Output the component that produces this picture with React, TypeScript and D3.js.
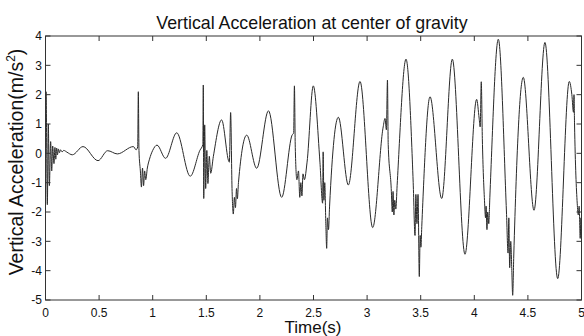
import React from "react";
import * as d3 from "d3";

const times: number[] = [
  0, 0.005, 0.017, 0.026, 0.036, 0.048, 0.058, 0.067, 0.079, 0.088, 0.096, 0.104, 0.112, 0.12, 0.13, 0.14, 0.155, 0.17, 0.2,
  0.25, 0.35, 0.49, 0.58, 0.67, 0.82, 0.845, 0.86, 0.866, 0.872, 0.885, 0.895, 0.905, 0.915, 0.925, 0.935, 0.95, 0.97,
  1.0, 1.04, 1.12, 1.224, 1.35, 1.44, 1.468, 1.472, 1.476, 1.485, 1.494, 1.505, 1.515, 1.528, 1.541, 1.566, 1.643,
  1.715, 1.727, 1.74, 1.752, 1.762, 1.772, 1.782, 1.79, 1.8, 1.877, 1.97, 2.08, 2.203, 2.3, 2.315, 2.322, 2.33, 2.345,
  2.36, 2.372, 2.382, 2.392, 2.402, 2.415, 2.44, 2.498, 2.56, 2.585, 2.59, 2.597, 2.605, 2.615, 2.623, 2.63, 2.64, 2.65,
  2.732, 2.825, 2.934, 3.052, 3.15, 3.167, 3.18, 3.19, 3.197, 3.225, 3.235, 3.242, 3.25, 3.258, 3.268, 3.28, 3.363,
  3.43, 3.447, 3.455, 3.465, 3.475, 3.487, 3.495, 3.502, 3.51, 3.587, 3.696, 3.795, 3.913, 4.022, 4.045, 4.055, 4.065,
  4.075, 4.095, 4.105, 4.11, 4.118, 4.125, 4.135, 4.145, 4.224, 4.3, 4.315, 4.322, 4.33, 4.34, 4.35, 4.358, 4.368,
  4.457, 4.557, 4.659, 4.778, 4.886, 4.91, 4.925, 4.93, 4.935, 4.96, 4.97, 4.978, 4.988, 4.995, 5.0,
];

const accel: number[] = [
  0, 2.1, -1.75, 1.0, -1.1, 0.4, -0.6, 0.25, -0.35, 0.2, -0.2, 0.18, -0.05, 0.15, 0.02, 0.12, 0.05, 0.1, 0.04,
  -0.05, 0.23, -0.25, 0.09, -0.02, 0.23, 0.12, 0.22, 2.1, 0.1, -0.6, -1.15, -0.5, -1.1, -0.6, -0.9, -0.5, -0.2,
  0.1, 0.28, -0.17, 0.7, -0.78, 0.1, 0.3, 2.33, -1.54, 0.97, -1.2, 0.1, -1.03, -0.1, -0.68, -0.1, 1.14,
  -0.3, 1.39, -1.2, -2.07, -1.5, -1.85, -1.2, -1.55, -1.0, 0.62, -0.51, 1.45, -1.5, 0.62, 0.7, 2.3, 0.2, -0.9,
  -0.6, -1.5, -1.0, -1.45, -0.7, -0.9, -0.3, 2.3, -0.3, -1.7, 0.05, -1.6, -1.0, -2.4, -3.24, -2.2, -2.6, -1.8,
  1.23, -1.08, 2.45, -2.53, 0.9, 1.19, 0.8, 2.5, 0.3, -1.2, -2.0, -1.3, -2.1, -1.6, -1.9, -1.1, 3.21,
  -1.0, -2.8, -1.4, -2.4, -1.4, -4.2, -2.8, -3.2, -2.5, 1.93, -1.54, 3.21, -3.44, 1.84, 1.2, 0.9, 2.44,
  0.5, -1.6, -2.2, -1.8, -2.6, -2.0, -2.4, -1.5, 3.89, -2.0, -3.4, -2.2, -3.9, -3.0, -4.0, -4.84, -3.5,
  2.59, -1.94, 3.78, -4.27, 2.45, 2.0, 1.4, 2.0, 1.0, -1.7, -2.1, -1.8, -2.9, -2.2, -2.7,
];

const xTicks: number[] = [0, 0.5, 1, 1.5, 2, 2.5, 3, 3.5, 4, 4.5, 5];
const xTickLabels: string[] = ["0", "0.5", "1", "1.5", "2", "2.5", "3", "3.5", "4", "4.5", "5"];
const yTicks: number[] = [-5, -4, -3, -2, -1, 0, 1, 2, 3, 4];
const yTickLabels: string[] = ["-5", "-4", "-3", "-2", "-1", "0", "1", "2", "3", "4"];

const W = 584;
const H = 336;
const L = 45.5;
const R = 581.5;
const T = 36;
const B = 300;
const FONT = "'Liberation Sans', Arial, sans-serif";

export default function App() {
  const x = d3.scaleLinear().domain([0, 5]).range([L, R]);
  const y = d3.scaleLinear().domain([-5, 4]).range([B, T]);
  const pts: [number, number][] = times.map((t, i) => [t, accel[i]]);
  const line = d3
    .line<[number, number]>()
    .x((d) => x(d[0]))
    .y((d) => y(d[1]))
    .curve(d3.curveMonotoneX);
  const tk = 5;
  return (
    <svg
      width={W}
      height={H}
      style={{ position: "absolute", left: 0, top: 0, background: "#fff" }}
      fontFamily={FONT}
    >
      <rect x={0} y={0} width={W} height={H} fill="#fff" />
      <path d={line(pts) || ""} fill="none" stroke="#2a2a2a" strokeWidth={1} />
      <rect x={L} y={T} width={R - L} height={B - T} fill="none" stroke="#333" strokeWidth={1} />
      {xTicks.map((v) => (
        <g key={"xt" + v}>
          <line x1={x(v)} x2={x(v)} y1={B} y2={B - tk} stroke="#333" />
          <line x1={x(v)} x2={x(v)} y1={T} y2={T + tk} stroke="#333" />
        </g>
      ))}
      {yTicks.map((v) => (
        <g key={"yt" + v}>
          <line x1={L} x2={L + tk} y1={y(v)} y2={y(v)} stroke="#333" />
          <line x1={R} x2={R - tk} y1={y(v)} y2={y(v)} stroke="#333" />
        </g>
      ))}
      {xTicks.map((v, i) => (
        <text key={"xl" + v} x={x(v)} y={316.5} textAnchor="middle" fontSize={12} fill="#111">
          {xTickLabels[i]}
        </text>
      ))}
      {yTicks.map((v, i) => (
        <text key={"yl" + v} x={42} y={y(v) + 4.3} textAnchor="end" fontSize={12} fill="#111">
          {yTickLabels[i]}
        </text>
      ))}
      <text x={312} y={29} textAnchor="middle" fontSize={17.8} fill="#111">
        Vertical Acceleration at center of gravity
      </text>
      <text x={313} y={333} textAnchor="middle" fontSize={17} fill="#111">
        Time(s)
      </text>
      <text
        transform={`translate(23,162) rotate(-90)`}
        textAnchor="middle"
        fontSize={19.5}
        fill="#111"
      >
        Vertical Acceleration(m/s
        <tspan fontSize={12} dy={-8}>2</tspan>
        <tspan dy={8}>)</tspan>
      </text>
    </svg>
  );
}
